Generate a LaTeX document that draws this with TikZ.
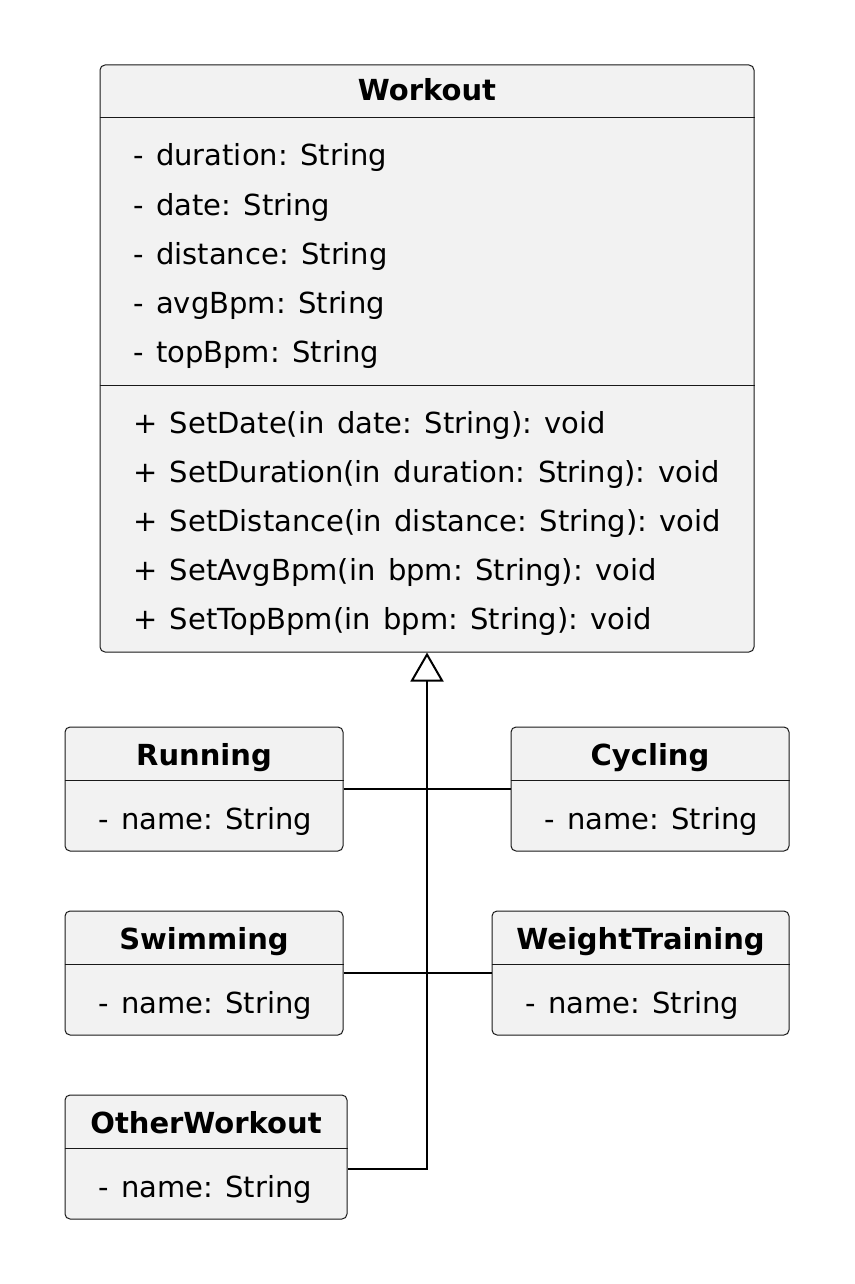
\documentclass[tikz,border=0pt]{standalone}
\usepackage{fontspec}
\setmainfont{DejaVu Sans}[WordSpace=1.35]
\usetikzlibrary{arrows.meta}

\begin{document}
\frenchspacing
\begin{tikzpicture}[x=1pt, y=-1pt, >={Triangle[open, length=29pt, width=33pt]},
    cls/.style={draw=black!90, fill=black!5, rounded corners=5pt, line width=1pt, inner sep=0pt},
    ttl/.style={font=\fontsize{29}{35}\selectfont\bfseries, anchor=base, inner sep=0pt},
    mem/.style={font=\fontsize{29}{35}\selectfont, anchor=base west, inner sep=0pt},
    sep/.style={draw=black!90, line width=1pt},
    conn/.style={draw=black, line width=2pt}]
    \useasboundingbox (0,0) rectangle (854,1284);

    \node[cls, minimum width=654pt, minimum height=587pt] (wk) at (427,358.5) {};
    \node[ttl] (wkt) at (427,101) {Workout};
    \draw[sep] (wk.west |- 0,118) -- (wk.east |- 0,118);
    \draw[sep] (wk.west |- 0,385) -- (wk.east |- 0,385);
    \foreach \txt [count=\i] in {- duration: String, - date: String, - distance: String,
        - avgBpm: String, - topBpm: String}
        \node[mem] (wka\i) at (133,117+49*\i) {\txt};
    \foreach \txt [count=\i] in {+ SetDate(in date: String): void,
        + SetDuration(in duration: String): void,
        + SetDistance(in distance: String): void,
        + SetAvgBpm(in bpm: String): void,
        + SetTopBpm(in bpm: String): void}
        \node[mem] (wkm\i) at (133,384+49*\i) {\txt};

    \node[cls, minimum width=278pt, minimum height=124pt] (run) at (204,789) {};
    \node[ttl] (runt) at (run.center |- 0,765) {Running};
    \draw[sep] (run.west |- 0,780) -- (run.east |- 0,780);
    \node[mem] (runa) at (98,829) {- name: String};

    \node[cls, minimum width=278pt, minimum height=124pt] (cyc) at (650,789) {};
    \node[ttl] (cyct) at (cyc.center |- 0,765) {Cycling};
    \draw[sep] (cyc.west |- 0,780) -- (cyc.east |- 0,780);
    \node[mem] (cyca) at (544,829) {- name: String};

    \node[cls, minimum width=278pt, minimum height=124pt] (swi) at (204,973) {};
    \node[ttl] (swit) at (swi.center |- 0,949) {Swimming};
    \draw[sep] (swi.west |- 0,964) -- (swi.east |- 0,964);
    \node[mem] (swia) at (98,1013) {- name: String};

    \node[cls, minimum width=297pt, minimum height=124pt] (wgt) at (640.5,973) {};
    \node[ttl] (wgtt) at (wgt.center |- 0,949) {WeightTraining};
    \draw[sep] (wgt.west |- 0,964) -- (wgt.east |- 0,964);
    \node[mem] (wgta) at (525,1013) {- name: String};

    \node[cls, minimum width=282pt, minimum height=124pt] (oth) at (206,1157) {};
    \node[ttl] (otht) at (oth.center |- 0,1133) {OtherWorkout};
    \draw[sep] (oth.west |- 0,1148) -- (oth.east |- 0,1148);
    \node[mem] (otha) at (98,1197) {- name: String};

    \coordinate (othe) at (oth.east |- 0,1169);
    \draw[conn, ->] (othe) -| (wk.south);
    \draw[conn] (run.east) -- (cyc.west);
    \draw[conn] (swi.east) -- (wgt.west);
\end{tikzpicture}
\end{document}
